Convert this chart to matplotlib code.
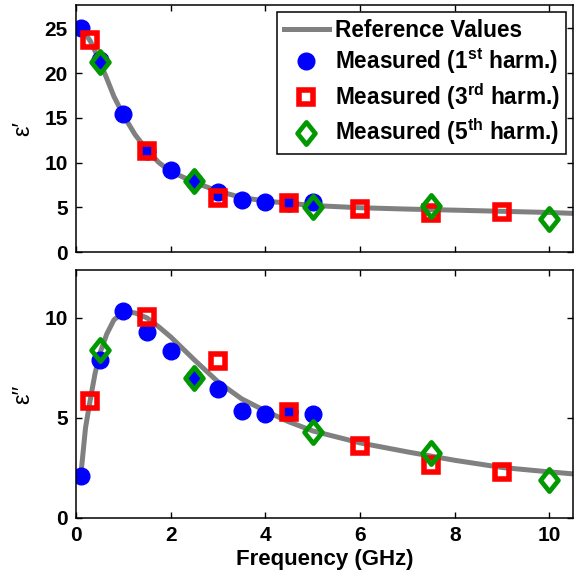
import matplotlib
matplotlib.use("Agg")
import matplotlib.pyplot as plt
from matplotlib.path import Path
import numpy as np

# reference curve
f_ref = [0.1, 0.2, 0.3, 0.4, 0.5, 0.65, 0.8, 1.0, 1.25, 1.5, 1.75, 2.0, 2.5, 3.0,
         3.5, 4.0, 4.5, 5.0, 6.0, 7.0, 8.0, 9.0, 10.0, 10.5]
eps_r_ref = [25.0, 24.4, 23.6, 22.5, 21.3, 19.4, 17.4, 15.3, 13.1, 11.4, 10.0, 9.0,
             7.8, 6.8, 6.1, 5.7, 5.45, 5.2, 4.95, 4.8, 4.68, 4.55, 4.42, 4.32]
eps_i_ref = [2.1, 4.5, 5.9, 7.2, 8.2, 9.2, 9.9, 10.3, 10.25, 10.0, 9.55, 9.05,
             7.9, 6.8, 5.95, 5.35, 4.8, 4.35, 3.75, 3.3, 2.88, 2.52, 2.3, 2.2]

# measured, 1st harmonic
f1 = [0.1, 0.5, 1.0, 1.5, 2.0, 2.5, 3.0, 3.5, 4.0, 4.5, 5.0]
eps_r1 = [25.0, 21.5, 15.4, 11.3, 9.15, 7.9, 6.7, 5.8, 5.6, 5.5, 5.6]
eps_i1 = [2.1, 7.9, 10.37, 9.3, 8.35, 7.0, 6.43, 5.35, 5.2, 5.28, 5.18]

# measured, 3rd harmonic
f3 = [0.3, 1.5, 3.0, 4.5, 6.0, 7.5, 9.0]
eps_r3 = [23.7, 11.3, 6.0, 5.5, 4.77, 4.4, 4.5]
eps_i3 = [5.87, 10.07, 7.85, 5.28, 3.57, 2.65, 2.28]

# measured, 5th harmonic
f5 = [0.5, 2.5, 5.0, 7.5, 10.0]
eps_r5 = [21.2, 7.9, 5.05, 5.2, 3.7]
eps_i5 = [8.4, 7.0, 4.32, 3.23, 1.9]

plt.rcParams['font.family'] = ['Liberation Sans', 'DejaVu Sans']
plt.rcParams['mathtext.fontset'] = 'custom'
plt.rcParams['mathtext.bf'] = 'Liberation Sans:bold'
plt.rcParams['mathtext.rm'] = 'Liberation Sans'

# MATLAB-like diamond (a bit taller than wide)
diamond = Path([(0, 1), (0.8, 0), (0, -1), (-0.8, 0), (0, 1)],
               [Path.MOVETO, Path.LINETO, Path.LINETO, Path.LINETO, Path.CLOSEPOLY])

grey = (0.5, 0.5, 0.5)
green = (0, 0.6, 0)

fig = plt.figure(figsize=(5.76, 5.78), dpi=100)
ax1 = fig.add_axes([0.132, 0.564, 0.863, 0.427])
ax2 = fig.add_axes([0.132, 0.104, 0.863, 0.429])


def draw(ax, yref, y1, y3, y5):
    ax.plot(f_ref, yref, color=grey, lw=3.6, label="Reference Values", zorder=1)
    ax.plot(f1, y1, 'o', color='blue', ms=12, mec='blue', ls='none',
            label=r"Measured (1$^{\mathbf{st}}$ harm.)", zorder=2)
    ax.plot(f3, y3, 's', mfc='none', mec='red', ms=10, mew=4, ls='none',
            label=r"Measured (3$^{\mathbf{rd}}$ harm.)", zorder=3)
    ax.plot(f5, y5, marker=diamond, mfc='none', mec=green, ms=16, mew=3.4, ls='none',
            label=r"Measured (5$^{\mathbf{th}}$ harm.)", zorder=4)
    ax.set_xlim(0, 10.5)
    ax.set_xticks([0, 2, 4, 6, 8, 10])
    ax.tick_params(direction='in', top=True, right=True, length=4, width=1,
                   labelsize=15, pad=6)
    for s in ax.spines.values():
        s.set_linewidth(1.1)


draw(ax1, eps_r_ref, eps_r1, eps_r3, eps_r5)
draw(ax2, eps_i_ref, eps_i1, eps_i3, eps_i5)

ax1.set_ylim(0, 27.6)
ax1.set_yticks([0, 5, 10, 15, 20, 25])
ax1.tick_params(labelbottom=False)

ax2.set_ylim(0, 12.4)
ax2.set_yticks([0, 5, 10])

for ax in (ax1, ax2):
    for lab in ax.get_xticklabels() + ax.get_yticklabels():
        lab.set_fontweight('bold')

ax1.set_ylabel("ε′", fontsize=17)
ax2.set_ylabel("ε′′", fontsize=17)
ax1.yaxis.set_label_coords(-0.085, 0.5)
ax2.yaxis.set_label_coords(-0.085, 0.5)
ax2.set_xlabel("Frequency (GHz)", fontsize=16, fontweight='bold', labelpad=3)

leg = ax1.legend(loc='upper right', prop={'weight': 'bold', 'size': 16.3},
                 frameon=True, fancybox=False, framealpha=1, edgecolor='black',
                 borderaxespad=0.3, handlelength=2.0, handletextpad=0.25,
                 labelspacing=0.22, borderpad=0.3)
leg.get_frame().set_linewidth(1.1)

fig.savefig("out.png", dpi=100)
